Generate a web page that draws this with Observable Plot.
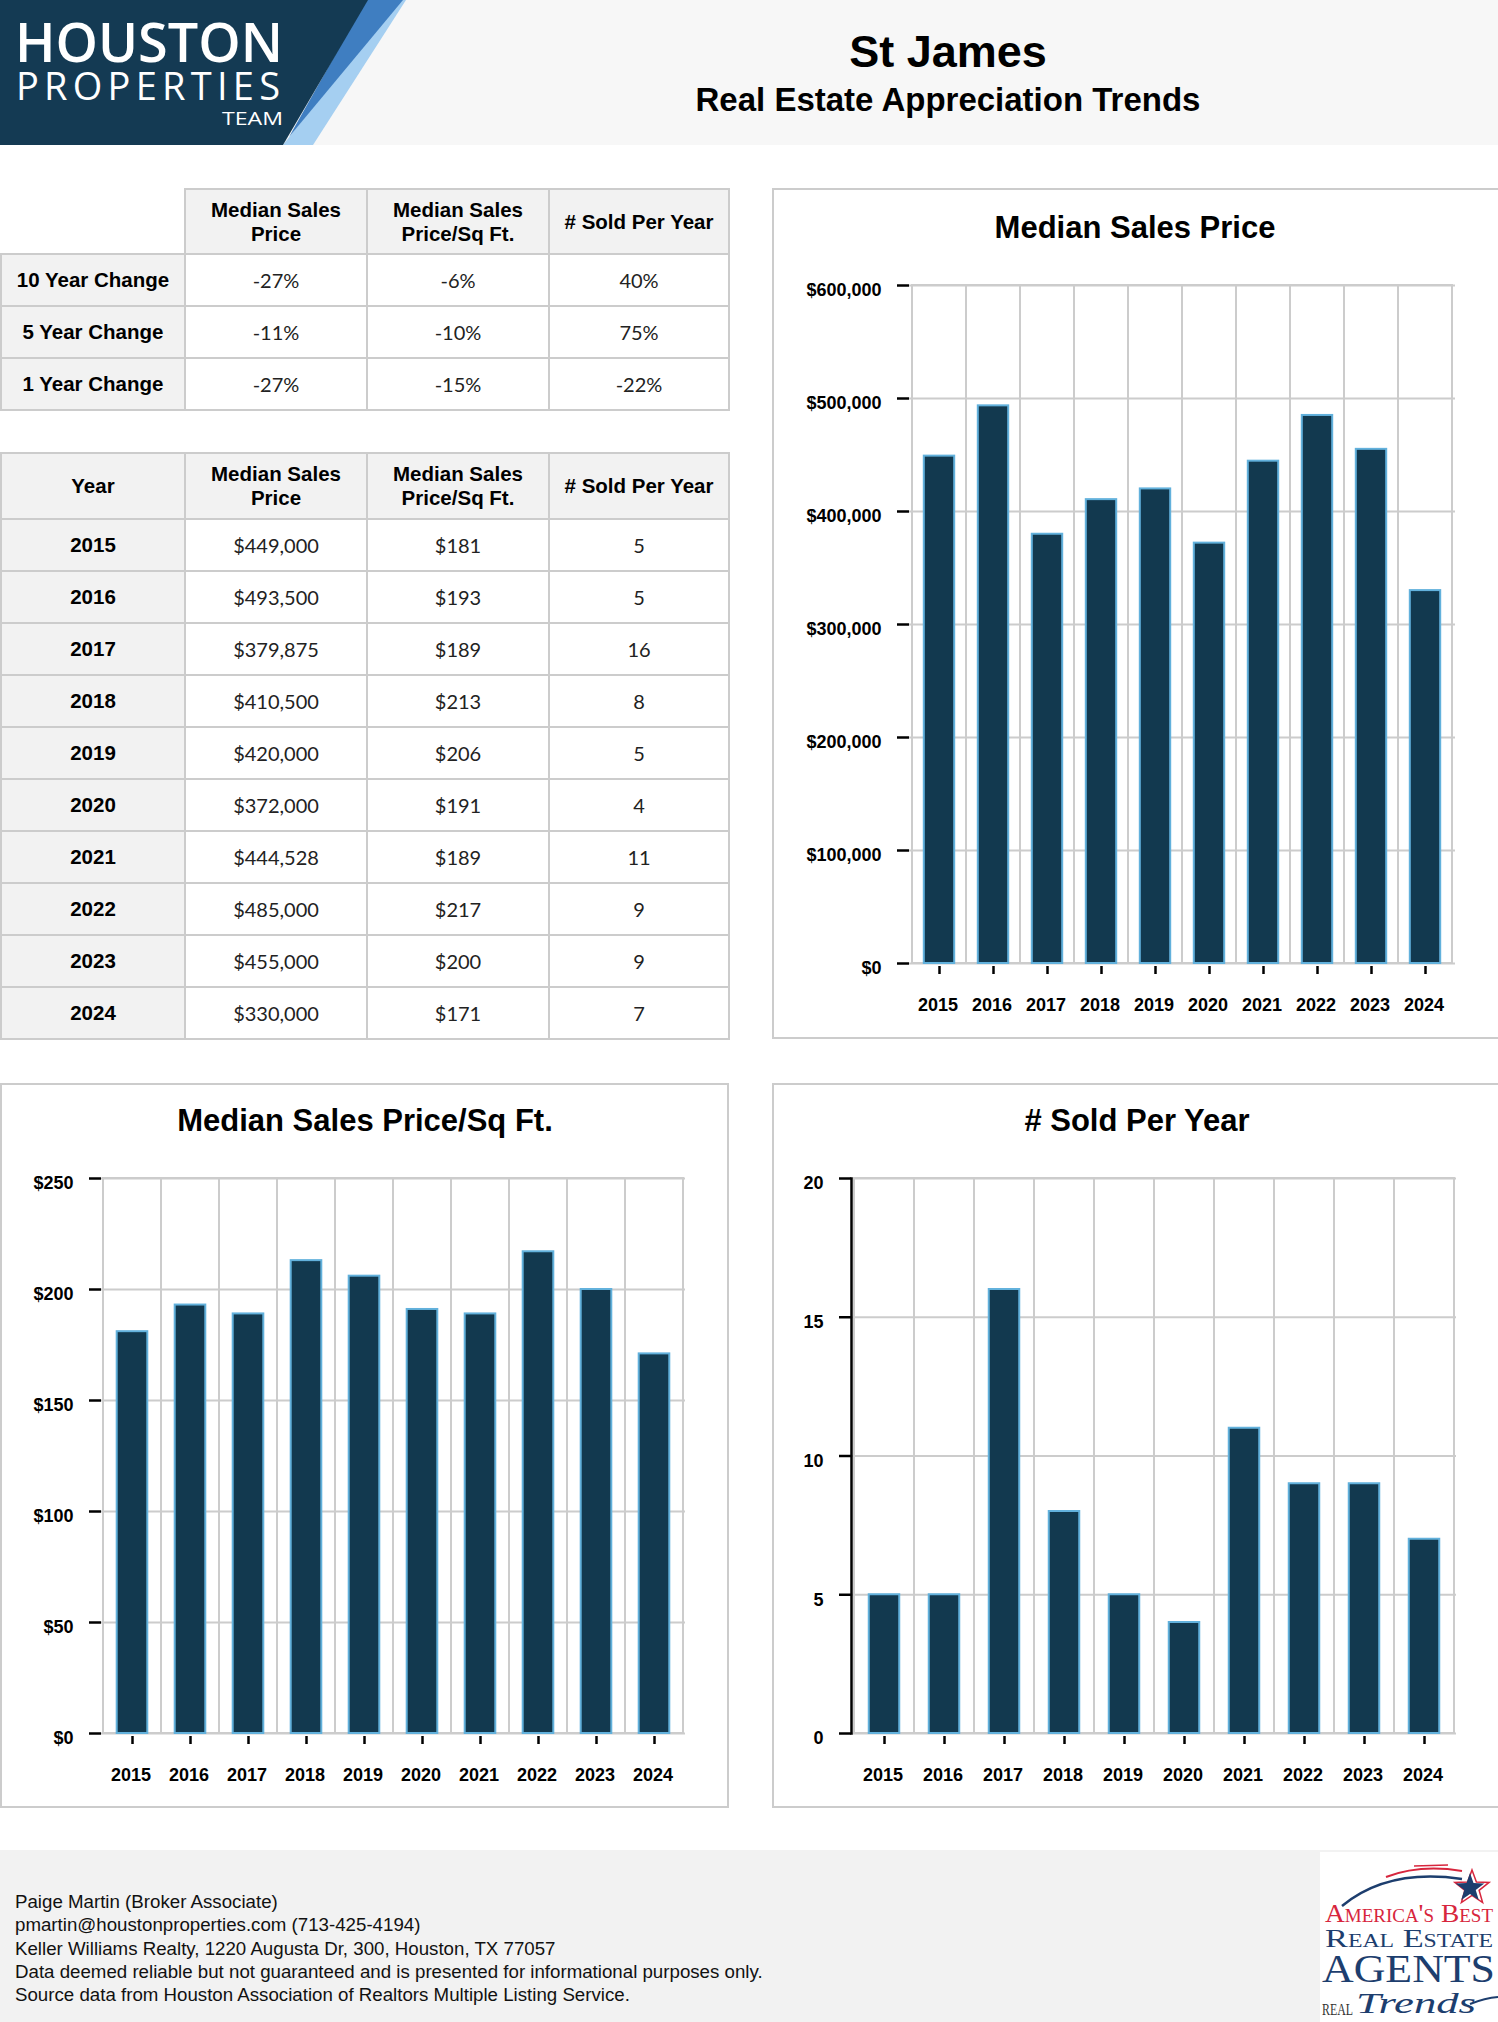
<!DOCTYPE html>
<html><head><meta charset="utf-8">
<script src="https://cdn.jsdelivr.net/npm/d3@7"></script>
<script src="https://cdn.jsdelivr.net/npm/@observablehq/plot@0.6"></script>
<style>
body{margin:0;background:#fff;}
#page{position:relative;width:1498px;height:2022px;overflow:hidden;background:#fff;font-family:"Liberation Sans",Arial,Helvetica,sans-serif;color:#000;}
.abs{position:absolute;}
#header{left:0;top:0;width:1498px;height:145px;background:#f7f7f7;}
.title{position:absolute;left:648px;width:600px;text-align:center;font-weight:bold;line-height:1;white-space:nowrap;}
table.t{position:absolute;left:0;border-collapse:collapse;table-layout:fixed;}
table.t td, table.t th{border:2px solid #cccccc;text-align:center;vertical-align:middle;padding:0;}
table.t th{background:#f2f2f2;font-weight:bold;font-size:20.5px;line-height:24px;}
table.t th.blank{background:#fff;border-top:none;border-left:none;}
table.t td.lab{background:#f2f2f2;font-weight:bold;font-size:20.5px;}
table.t td.val{font-family:Lato,sans-serif;font-size:20px;color:#222;}
.panel{position:absolute;border:2px solid #cccccc;box-sizing:border-box;pointer-events:none;}
.chart{position:absolute;}
.ctitle{position:absolute;text-align:center;font-weight:bold;font-size:31px;line-height:1;white-space:nowrap;}
#footer{left:0;top:1850px;width:1498px;height:172px;background:#f2f2f2;}
#foottext{position:absolute;left:15px;top:1890px;font-size:18.7px;line-height:23.3px;color:#111;white-space:nowrap;}
</style>
</head>
<body>
<div id="page">
  <div id="header" class="abs"></div>
  <svg class="abs" style="left:0;top:0" width="420" height="145">
    <defs>
      <linearGradient id="lg" x1="0" x2="1" y1="0" y2="0">
        <stop offset="0" stop-color="#ffffff" stop-opacity="0"/>
        <stop offset="0.5" stop-color="#ffffff" stop-opacity="0.8"/>
        <stop offset="1" stop-color="#ffffff" stop-opacity="1"/>
      </linearGradient>
    </defs>
    <polygon points="396,0 406,0 313,145 283,145" fill="#a5cff1"/>
    <polygon points="366,0 403,0 289,137" fill="#3f7ec1"/>
    <polygon points="0,0 368,0 283,145 0,145" fill="#143a53"/>
    <text x="15" y="62" font-family="'Open Sans', Lato, sans-serif" font-weight="600" font-size="54" fill="#fff" textLength="268" lengthAdjust="spacingAndGlyphs">HOUSTON</text>
    <text x="16" y="100" font-family="'Open Sans', Lato, sans-serif" font-weight="500" font-size="38" fill="#fff" textLength="264" lengthAdjust="spacing">PROPERTIES</text>
    <line x1="23" y1="117" x2="214" y2="117" stroke="url(#lg)" stroke-width="2"/>
    <text x="222" y="125" font-family="'Open Sans', Lato, sans-serif" font-weight="500" font-size="19" fill="#fff" textLength="61" lengthAdjust="spacingAndGlyphs">TEAM</text>
  </svg>
  <div class="title" style="top:29px;font-size:45px;">St James</div>
  <div class="title" style="top:83px;font-size:33px;">Real Estate Appreciation Trends</div>

  <table class="t" id="t1" style="top:188px;"></table>
  <table class="t" id="t2" style="top:452px;"></table>

  <div id="c1" class="chart" style="left:772px;top:188px;"></div>
  <div class="panel" style="left:772px;top:188px;width:740px;height:851px;"></div>
  <div class="ctitle" style="left:835px;width:600px;top:212px;">Median Sales Price</div>

  <div id="c2" class="chart" style="left:0px;top:1083px;"></div>
  <div class="panel" style="left:0px;top:1083px;width:729px;height:725px;"></div>
  <div class="ctitle" style="left:65px;width:600px;top:1105px;">Median Sales Price/Sq Ft.</div>

  <div id="c3" class="chart" style="left:772px;top:1083px;"></div>
  <div class="panel" style="left:772px;top:1083px;width:740px;height:725px;"></div>
  <div class="ctitle" style="left:837px;width:600px;top:1105px;"># Sold Per Year</div>

  <div id="footer" class="abs"></div>
  <div id="foottext">Paige Martin (Broker Associate)<br>pmartin@houstonproperties.com (713-425-4194)<br>Keller Williams Realty, 1220 Augusta Dr, 300, Houston, TX 77057<br>Data deemed reliable but not guaranteed and is presented for informational purposes only.<br>Source data from Houston Association of Realtors Multiple Listing Service.</div>

  <svg class="abs" style="left:1320px;top:1852px" width="178" height="170">
    <rect width="178" height="170" fill="#ffffff"/>
    <path d="M22,54 Q68,16 142,27" stroke="#1d3e6e" stroke-width="2.5" fill="none"/>
    <path d="M66,25 Q100,12 142,19" stroke="#d7263d" stroke-width="2" fill="none"/>
    <path d="M94,14 L128,13" stroke="#d7263d" stroke-width="1.5" fill="none"/>
    <polygon id="starR" fill="none" stroke="#d7263d" stroke-width="1.5"/>
    <polygon id="starB" fill="#1d3e6e"/>
    <text x="5" y="70" font-family="'Liberation Serif', serif" font-size="26" fill="#d7263d" textLength="168" lengthAdjust="spacingAndGlyphs" style="font-variant:small-caps">America's Best</text>
    <text x="5" y="95" font-family="'Liberation Serif', serif" font-size="26" fill="#1d3e6e" textLength="168" lengthAdjust="spacingAndGlyphs" style="font-variant:small-caps">Real Estate</text>
    <text x="2" y="130" font-family="'Liberation Serif', serif" font-size="40" fill="#1d3e6e" textLength="173" lengthAdjust="spacingAndGlyphs">AGENTS</text>
    <text x="2" y="163" font-family="'Liberation Serif', serif" font-size="17" fill="#333" textLength="31" lengthAdjust="spacingAndGlyphs">REAL</text>
    <text x="36" y="161" font-family="'Liberation Serif', serif" font-style="italic" font-size="30" fill="#1d3e6e" textLength="120" lengthAdjust="spacingAndGlyphs">Trends</text>
    <path d="M150,152 Q165,146 178,145" stroke="#1d3e6e" stroke-width="2" fill="none"/>
  </svg>
</div>

<script>
// ---------- data ----------
const years = [2015, 2016, 2017, 2018, 2019, 2020, 2021, 2022, 2023, 2024];
const medianPrice = [449000, 493500, 379875, 410500, 420000, 372000, 444528, 485000, 455000, 330000];
const pricePerSqFt = [181, 193, 189, 213, 206, 191, 189, 217, 200, 171];
const soldPerYear = [5, 5, 16, 8, 5, 4, 11, 9, 9, 7];

const changeLabels = ["10 Year Change", "5 Year Change", "1 Year Change"];
const priceChange = ["-27%", "-11%", "-27%"];
const sqftChange = ["-6%", "-10%", "-15%"];
const soldChange = ["40%", "75%", "-22%"];

const colHeaders = ["Median Sales<br>Price", "Median Sales<br>Price/Sq Ft.", "# Sold Per Year"];

const priceTicks = [0, 100000, 200000, 300000, 400000, 500000, 600000];
const sqftTicks = [0, 50, 100, 150, 200, 250];
const soldTicks = [0, 5, 10, 15, 20];

const BAR_FILL = "#12394f";
const BAR_STROKE = "#62b1dc";
const GRID = "#cccccc";

// ---------- tables ----------
const colW = [184, 182, 182, 180];
function colgroup() { return "<colgroup>" + colW.map(w => `<col style="width:${w}px">`).join("") + "</colgroup>"; }

const fmtPrice = d3.format("$,");
const fmtSq = d3.format("$,.0f");

let h1 = colgroup() + `<tr style="height:65px"><th class="blank"></th>` + colHeaders.map(h => `<th>${h}</th>`).join("") + "</tr>";
changeLabels.forEach((lab, i) => {
  h1 += `<tr style="height:52px"><td class="lab">${lab}</td><td class="val">${priceChange[i]}</td><td class="val">${sqftChange[i]}</td><td class="val">${soldChange[i]}</td></tr>`;
});
document.getElementById("t1").innerHTML = h1;

let h2 = colgroup() + `<tr style="height:66px"><th>Year</th>` + colHeaders.map(h => `<th>${h}</th>`).join("") + "</tr>";
years.forEach((y, i) => {
  h2 += `<tr style="height:52px"><td class="lab">${y}</td><td class="val">${fmtPrice(medianPrice[i])}</td><td class="val">${fmtSq(pricePerSqFt[i])}</td><td class="val">${soldPerYear[i]}</td></tr>`;
});
document.getElementById("t2").innerHTML = h2;

// ---------- star (decoration) ----------
function starPts(cx, cy, R, r) {
  const p = [];
  for (let k = 0; k < 10; k++) {
    const a = -Math.PI / 2 + k * Math.PI / 5;
    const rr = k % 2 ? r : R;
    p.push((cx + rr * Math.cos(a)).toFixed(1) + "," + (cy + rr * Math.sin(a)).toFixed(1));
  }
  return p.join(" ");
}
document.getElementById("starR").setAttribute("points", starPts(152, 36, 18, 7.5));
document.getElementById("starB").setAttribute("points", starPts(150, 36, 15, 6));

// ---------- charts ----------
function makeChart({values, ticks, fmt, width, height, mt, mr, mb, ml, axisLine}) {
  const data = years.map((y, i) => ({year: String(y), value: values[i]}));
  const yMax = ticks[ticks.length - 1];
  const bw = (width - ml - mr) / years.length;
  const inset = (bw - 31) / 2;
  const marks = [
    Plot.barY(data, {x: "year", y1: 0, y2: yMax, fill: "none", stroke: GRID, strokeWidth: 2}),
    Plot.ruleY(ticks, {stroke: GRID, strokeWidth: 2}),
    Plot.barY(data, {x: "year", y: "value", fill: BAR_FILL, stroke: BAR_STROKE, strokeWidth: 2, insetLeft: inset, insetRight: inset}),
    Plot.axisY({ticks, tickSize: 12, tickFormat: () => "", label: null, stroke: "#000", strokeWidth: 2.5}),
    Plot.axisY({ticks, tickSize: 0, tickPadding: 28, dy: 5, tickFormat: fmt, label: null, fontSize: 18, fontWeight: "bold", fill: "#000"}),
    Plot.axisX({tickSize: 8, dy: 3, tickFormat: () => "", label: null, stroke: "#000", strokeWidth: 2.5}),
    Plot.axisX({tickSize: 0, tickPadding: 35, dx: -1.5, label: null, fontSize: 18, fontWeight: "bold", fill: "#000"})
  ];
  if (axisLine) marks.push(Plot.frame({anchor: "left", stroke: "#000", strokeWidth: 2.5}));
  return Plot.plot({
    width, height, marginTop: mt, marginRight: mr, marginBottom: mb, marginLeft: ml,
    style: {background: "transparent", color: "#000", fontFamily: "'Liberation Sans', Arial, sans-serif", overflow: "visible"},
    x: {type: "band", domain: data.map(d => d.year), padding: 0, label: null},
    y: {domain: [0, yMax], label: null},
    marks
  });
}

document.getElementById("c1").append(makeChart({
  values: medianPrice, ticks: priceTicks, fmt: d3.format("$,"),
  width: 726, height: 850, mt: 97, mr: 43, mb: 75, ml: 137
}));
document.getElementById("c2").append(makeChart({
  values: pricePerSqFt, ticks: sqftTicks, fmt: d3.format("$,.0f"),
  width: 728, height: 724, mt: 95, mr: 43, mb: 74, ml: 101
}));
document.getElementById("c3").append(makeChart({
  values: soldPerYear, ticks: soldTicks, fmt: d3.format("d"),
  width: 726, height: 724, mt: 95, mr: 42, mb: 74, ml: 79, axisLine: true
}));
</script>
</body></html>
